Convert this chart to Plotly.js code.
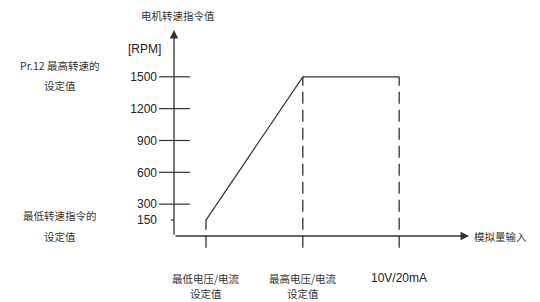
<!DOCTYPE html>
<html>
<head>
<meta charset="utf-8">
<script src="https://cdn.plot.ly/plotly-3.0.1.min.js"></script>
<style>html,body{margin:0;padding:0;background:#fff;}#chart{width:540px;height:302px;}</style>
</head>
<body>
<div id="chart"></div>
<script>
// ---- data ----
const inputPoints = [1.42, 5.72, 10];          // analog input (min setting, max setting, 10V/20mA)
const speedValues = [150, 1500, 1500];         // speed [RPM]
const inputLabelLine1 = ["最低电压/电流", "最高电压/电流", "10V/20mA"];
const inputLabelLine2 = ["设定值", "设定值", ""];
const speedTicks = [150, 300, 600, 900, 1200, 1500];
const speedTickText = ["150", "300", "600", "900", "1200", "1500"];
const xMax = 13.1, yMin = -132, yMax = 1941;

const lineColor = '#333';
const cjk = 'Noto Sans CJK SC, sans-serif';
const latin = 'Liberation Sans, Arial, sans-serif';

// vertical dashed guide lines built from the data
const gx = [], gy = [];
inputPoints.forEach((x, i) => { gx.push(x, x, null); gy.push(-110, speedValues[i], null); });

const traces = [
  { x: gx, y: gy, mode: 'lines', line: {color: lineColor, width: 1.3, dash: '12px,6px'}, hoverinfo: 'skip' },
  { x: inputPoints, y: speedValues, mode: 'lines', line: {color: lineColor, width: 1.2}, hoverinfo: 'skip' }
];

const PW = 295, PH = 220;
const shapes = speedTicks.map(v => ({
  type: 'line', xref: 'paper', yref: 'y',
  x0: v === speedTicks[0] ? -3/PW : -15/PW, x1: v === speedTicks[0] ? 0 : 16/PW,
  y0: v, y1: v, line: {color: lineColor, width: 1.2}
}));

function px(x){ return (x-174)/PW; }
function py(y){ return (250-y)/PH; }

function txt(x, y, text, font, anchor){
  return {x: px(x), y: py(y), xref:'paper', yref:'paper', text: text, showarrow:false,
          xanchor: anchor || 'center', yanchor:'middle', font: font};
}
const cjkFont = {family: cjk, size: 10.5, color:'#333'};
const latFont = {family: latin, size: 12, color:'#222'};

const annotations = [
  // axes with arrows
  {x: xMax, y: 0, ax: 0, ay: 0, xref:'x', yref:'y', axref:'x', ayref:'y', text:'', showarrow:true,
   arrowhead: 2, arrowsize: 1.3, arrowwidth: 1.3, arrowcolor: lineColor},
  {x: 0, y: yMax, ax: 0, ay: 0, xref:'x', yref:'y', axref:'x', ayref:'y', text:'', showarrow:true,
   arrowhead: 2, arrowsize: 1.3, arrowwidth: 1.3, arrowcolor: lineColor},
  txt(144, 49, '[RPM]', latFont),
  txt(178, 15, '电机转速指令值', cjkFont),
  txt(60, 65, 'Pr.12 最高转速的', cjkFont),
  txt(60, 85, '设定值', cjkFont),
  txt(60, 215, '最低转速指令的', cjkFont),
  txt(60, 236, '设定值', cjkFont),
  txt(472, 236, '模拟量输入', cjkFont, 'left')
];
inputPoints.forEach((x, i) => {
  const isLatin = /^[\x00-\x7F]*$/.test(inputLabelLine1[i]);
  annotations.push({x: x, y: py(278), xref:'x', yref:'paper', text: inputLabelLine1[i], showarrow:false,
    xanchor:'center', yanchor:'middle', font: isLatin ? latFont : cjkFont});
  if (inputLabelLine2[i]) annotations.push({x: x, y: py(293), xref:'x', yref:'paper', text: inputLabelLine2[i],
    showarrow:false, xanchor:'center', yanchor:'middle', font: cjkFont});
});

const layout = {
  width: 540, height: 302,
  margin: {l: 174, r: 71, t: 30, b: 52, pad: 0},
  paper_bgcolor: '#fff', plot_bgcolor: '#fff',
  showlegend: false,
  xaxis: {range: [0, xMax], showgrid: false, zeroline: false, showline: false,
          showticklabels: false, ticks: '', fixedrange: true},
  yaxis: {range: [yMin, yMax], showgrid: false, zeroline: false, showline: false,
          tickvals: speedTicks, ticktext: speedTickText, ticks: '', ticklabelstandoff: 16,
          tickfont: latFont, fixedrange: true},
  shapes: shapes,
  annotations: annotations
};

Plotly.newPlot('chart', traces, layout, {staticPlot: true});
</script>
</body>
</html>
